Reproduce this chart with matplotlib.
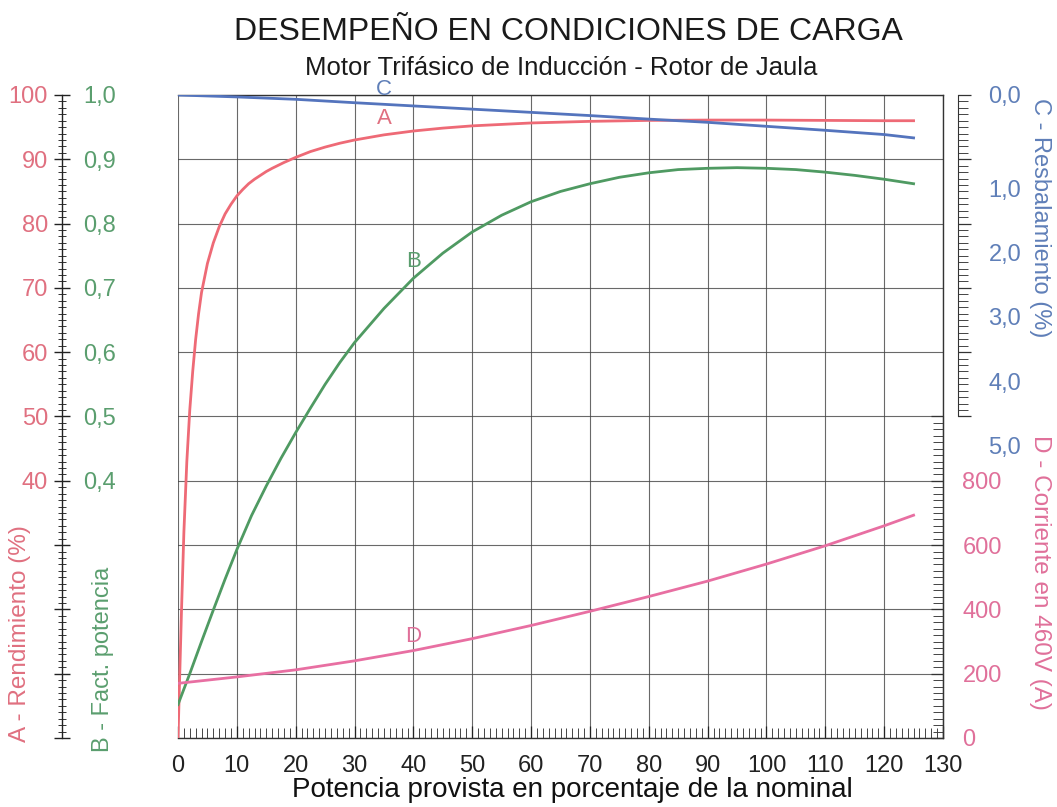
import matplotlib
matplotlib.use("Agg")
import matplotlib.pyplot as plt
from matplotlib.ticker import MultipleLocator, FixedLocator, FixedFormatter
from matplotlib.transforms import ScaledTranslation

plt.rcParams['font.family'] = ['Liberation Sans', 'DejaVu Sans']

# ---- data -------------------------------------------------------------
# A - efficiency (%)
x_a = [0, 0.3, 0.6, 1.0, 1.5, 2.0, 2.5, 3, 3.5, 4, 5, 6, 7, 8, 9, 10, 11,
       12, 13, 14, 15, 16, 18, 20, 22.5, 25, 27.5, 30, 35, 40, 45, 50, 60,
       70, 80, 90, 100, 110, 120, 125]
rendimiento = [0, 10, 20, 32, 43, 51, 57, 62, 66, 69.3, 73.8, 77, 79.5, 81.5,
               83, 84.3, 85.3, 86.2, 86.9, 87.5, 88.1, 88.6, 89.5, 90.3, 91.2,
               91.9, 92.5, 93.0, 93.8, 94.4, 94.85, 95.2, 95.65, 95.9, 96.05,
               96.1, 96.1, 96.05, 96.0, 96.0]

# B - power factor
x_b = [0, 2, 4, 6, 8, 10, 12.5, 15, 17.5, 20, 22.5, 25, 27.5, 30, 35, 40, 45,
       50, 55, 60, 65, 70, 75, 80, 85, 90, 95, 100, 105, 110, 115, 120, 125]
fact_potencia = [0.052, 0.100, 0.150, 0.199, 0.247, 0.293, 0.346, 0.392,
                 0.435, 0.475, 0.513, 0.550, 0.584, 0.615, 0.668, 0.715,
                 0.754, 0.787, 0.813, 0.834, 0.850, 0.862, 0.872, 0.879,
                 0.884, 0.886, 0.887, 0.886, 0.884, 0.880, 0.875, 0.869,
                 0.862]

# C - slip (%)
x_c = [0, 10, 20, 30, 40, 50, 60, 70, 80, 90, 100, 110, 120, 125]
resbalamiento = [0, 0.03, 0.067, 0.12, 0.17, 0.22, 0.27, 0.32, 0.375, 0.425,
                 0.487, 0.549, 0.615, 0.667]

# D - current at 460 V (A)
x_d = [0, 10, 20, 30, 40, 50, 60, 70, 80, 90, 100, 110, 120, 125]
corriente = [170, 190, 212, 240, 272, 309, 350, 394, 440, 488, 541, 598, 660,
             693]

x_ticks = list(range(0, 131, 10))
a_ticks = [40, 50, 60, 70, 80, 90, 100]
b_ticks = [0.4, 0.5, 0.6, 0.7, 0.8, 0.9, 1.0]
c_ticks = [0, 1, 2, 3, 4, 5]
d_ticks = [0, 200, 400, 600, 800]

# ---- style ------------------------------------------------------------
RED = '#ee6a76'
RED_TXT = '#e07080'
GREEN = '#4f9a62'
GREEN_TXT = '#5a9e6e'
BLUE = '#5474bd'
BLUE_TXT = '#5f7fb8'
PINK = '#e86fa2'
PINK_TXT = '#e0709a'
GRID = '#444444'
LW = 2.0


def comma(v, nd=1):
    return f"{v:.{nd}f}".replace('.', ',')


fig = plt.figure(figsize=(10.57, 8.07), dpi=100)
L, B, W, H = 178 / 1057, 1 - 738 / 807, 765 / 1057, 643 / 807
ax = fig.add_axes([L, B, W, H])
ax.set_xlim(0, 130)
ax.set_ylim(0, 100)

# main grid
ax.xaxis.set_major_locator(FixedLocator(x_ticks))
ax.xaxis.set_minor_locator(MultipleLocator(1))
ax.yaxis.set_major_locator(FixedLocator(list(range(0, 101, 10))))
ax.yaxis.set_minor_locator(MultipleLocator(1))
ax.yaxis.set_major_formatter(FixedFormatter(
    [str(v) if v in a_ticks else '' for v in range(0, 101, 10)]))
ax.grid(True, which='major', color=GRID, lw=0.8, alpha=0.8)
ax.set_axisbelow(True)

for s in ['top', 'bottom', 'right']:
    ax.spines[s].set_color('#333333')
    ax.spines[s].set_linewidth(1.0)
ax.spines['left'].set_position(('axes', (62 - 178) / 765))
ax.spines['left'].set_color('#222222')
ax.spines['left'].set_linewidth(1.0)

ax.tick_params(axis='x', which='major', direction='in', length=9, width=0.9,
               labelsize=17, pad=12, colors='#222222')
ax.tick_params(axis='x', which='minor', direction='in', length=7, width=0.7,
               colors='#444444')
ax.tick_params(axis='y', which='major', direction='inout', length=12,
               width=1.0, labelsize=17, pad=4, colors='#222222',
               labelcolor=RED_TXT)
ax.tick_params(axis='y', which='minor', direction='inout', length=6,
               width=0.7, colors='#333333')

ax.plot(x_a, rendimiento, color=RED, lw=LW, zorder=5)

# B axis: labels to the right of the shared left spine
axb = ax.twinx()
axb.set_ylim(0, 1)
for s in axb.spines.values():
    s.set_visible(False)
axb.spines['right'].set_position(('axes', (62 - 178) / 765))
axb.yaxis.set_major_locator(FixedLocator(b_ticks))
axb.yaxis.set_major_formatter(FixedFormatter([comma(v) for v in b_ticks]))
axb.tick_params(axis='y', which='both', length=0, pad=15, labelsize=17,
                labelcolor=GREEN_TXT)
axb.plot(x_b, fact_potencia, color=GREEN, lw=LW, zorder=5)

# C axis: inverted scale on a short outer spine
axc = ax.twinx()
axc.set_ylim(10, 0)
for s in axc.spines.values():
    s.set_visible(False)
axc.spines['right'].set_visible(True)
axc.spines['right'].set_position(('axes', (958 - 178) / 765))
axc.spines['right'].set_bounds(0, 5)
axc.spines['right'].set_color('#333333')
axc.yaxis.set_major_locator(FixedLocator(c_ticks))
axc.yaxis.set_minor_locator(FixedLocator([i / 10 for i in range(0, 51)]))
axc.yaxis.set_major_formatter(FixedFormatter([comma(v) for v in c_ticks]))
axc.tick_params(axis='y', which='major', direction='out', length=9,
                width=0.9, pad=13, labelsize=17, labelcolor=BLUE_TXT,
                colors='#333333')
axc.tick_params(axis='y', which='minor', direction='out', length=7,
                width=0.7, colors='#444444')
axc.tick_params(axis='y', labelcolor=BLUE_TXT)
axc.plot(x_c, resbalamiento, color=BLUE, lw=LW, zorder=5)

# the printed slip figures sit a little below their ticks (except 0,0)
shift = ScaledTranslation(0, -29 / 100, fig.dpi_scale_trans)
for tick in axc.yaxis.get_major_ticks()[1:]:
    tick.label2.set_transform(tick.label2.get_transform() + shift)

# D axis: current on the lower half of the right frame
axd = ax.twinx()
axd.set_ylim(0, 2000)
for s in axd.spines.values():
    s.set_visible(False)
axd.spines['right'].set_visible(True)
axd.spines['right'].set_bounds(0, 1000)
axd.spines['right'].set_color('#333333')
axd.yaxis.set_major_locator(FixedLocator(list(range(0, 1001, 200))))
axd.yaxis.set_minor_locator(FixedLocator(list(range(0, 1001, 20))))
axd.yaxis.set_major_formatter(FixedFormatter(
    [str(v) if v in d_ticks else '' for v in range(0, 1001, 200)]))
axd.tick_params(axis='y', which='major', direction='in', length=9,
                width=0.9, pad=14, labelsize=17, colors='#333333',
                labelcolor=PINK_TXT)
axd.tick_params(axis='y', which='minor', direction='in', length=7,
                width=0.7, colors='#444444')
axd.plot(x_d, corriente, color=PINK, lw=LW, zorder=5)

# curve letters
ax.text(35, 100.9, 'C', color=BLUE_TXT, fontsize=16, ha='center',
        va='center', clip_on=False)
ax.text(35, 96.3, 'A', color=RED_TXT, fontsize=16, ha='center', va='center')
axb.text(40, 0.741, 'B', color=GREEN_TXT, fontsize=16, ha='center',
         va='center')
axd.text(40, 316, 'D', color=PINK_TXT, fontsize=16, ha='center', va='center')

# axis titles
ax.text((20 - 178) / 765, (738 - 634) / 643, 'A - Rendimiento (%)',
        transform=ax.transAxes, rotation=90, ha='center', va='center',
        fontsize=17.5, color=RED_TXT)
ax.text((103 - 178) / 765, (738 - 659) / 643, 'B - Fact. potencia',
        transform=ax.transAxes, rotation=90, ha='center', va='center',
        fontsize=17, color=GREEN_TXT)
ax.text((1040 - 178) / 765, (738 - 218) / 643, 'C - Resbalamiento (%)',
        transform=ax.transAxes, rotation=270, ha='center', va='center',
        fontsize=17, color=BLUE_TXT)
ax.text((1040 - 178) / 765, (738 - 572) / 643, 'D - Corriente en 460V (A)',
        transform=ax.transAxes, rotation=270, ha='center', va='center',
        fontsize=17.5, color=PINK_TXT)

fig.text(572 / 1057, 1 - 790 / 807,
         'Potencia provista en porcentaje de la nominal',
         ha='center', va='center', fontsize=20, color='#111111')
fig.text(568 / 1057, 1 - 32 / 807, 'DESEMPEÑO EN CONDICIONES DE CARGA',
         ha='center', va='center', fontsize=23, color='#1a1a1a')
fig.text(561 / 1057, 1 - 68 / 807,
         'Motor Trifásico de Inducción - Rotor de Jaula',
         ha='center', va='center', fontsize=18.5, color='#1a1a1a')

fig.savefig('out.png', dpi=100, facecolor='white')
